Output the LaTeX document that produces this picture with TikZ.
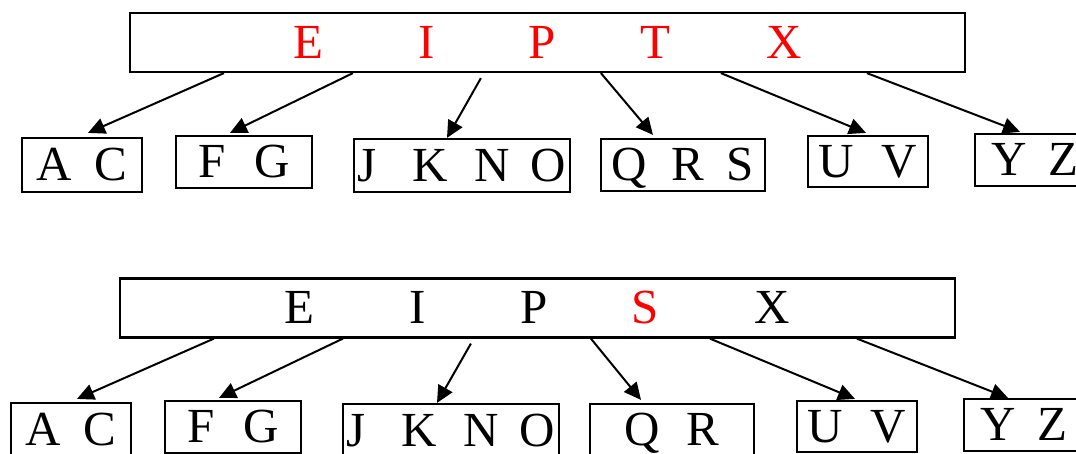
\documentclass[tikz,border=0pt]{standalone}
\usepackage{fontspec}
\setmainfont{Liberation Serif}
\usetikzlibrary{arrows.meta}

% five keys of an internal node, spaced out
\newcommand{\keyrow}[5]{#1\hspace{95pt}#2\hspace{94pt}#3\hspace{84pt}#4\hspace{96pt}#5}

\begin{document}
\begin{tikzpicture}[x=1pt, y=-1pt,
    keys/.style={draw, line width=2.2pt, inner sep=0pt, minimum width=835pt, minimum height=59pt,
                 text height=31.5pt, text depth=0pt, font=\fontsize{49}{51}\selectfont},
    leaf/.style={draw, line width=2.2pt, inner sep=0pt, minimum height=52pt,
                 text height=31.5pt, text depth=0pt, font=\fontsize{49}{51}\selectfont},
    link/.style={-{Triangle[length=17pt,width=16pt]}, line width=2pt}]
        \useasboundingbox (0,0) rectangle (1076,453);
        \clip (0,0) rectangle (1076,453);

        % ============================================================
        % Before: root holds E I P T X
        % ============================================================
        \node[keys, text=red] (topkeys) at (547.5,42.5) {\keyrow{E}{I}{P}{T}{X}};

        \node[leaf, minimum width=120pt, minimum height=54pt] (topac) at (82,165) {A\hspace{22pt}C};
        \node[leaf, minimum width=136pt] (topfg) at (244,162) {F\hspace{29pt}G};
        \node[leaf, minimum width=216pt, minimum height=53pt] (topjkno) at (462,165.5) {J\hspace{36pt}K\hspace{26pt}N\hspace{21pt}O};
        \node[leaf, minimum width=164pt] (topqrs) at (683,165) {Q\hspace{24pt}R\hspace{23pt}S};
        \node[leaf, minimum width=120pt, minimum height=51pt] (topuv) at (868,161.5) {U\hspace{28pt}V};
        \node[leaf, minimum width=120pt] (topyz) at (1035,160) {Y\hspace{21pt}Z};

        \draw[link] ([xshift=95pt]topkeys.south west) -- ([xshift=6pt,yshift=4pt]topac.north);
        \draw[link] ([xshift=224pt]topkeys.south west) -- ([xshift=-14pt,yshift=2pt]topfg.north);
        \draw[link] ([xshift=352pt,yshift=-5pt]topkeys.south west) -- ([xshift=-15pt]topjkno.north);
        \draw[link] ([xshift=472pt]topkeys.south west) -- ([xshift=-30pt,yshift=3pt]topqrs.north);
        \draw[link] ([xshift=592pt]topkeys.south west) -- ([xshift=-2pt,yshift=2pt]topuv.north);
        \draw[link] ([xshift=738pt]topkeys.south west) -- ([xshift=-15pt,yshift=1pt]topyz.north);

        % ============================================================
        % After: T replaced by S
        % ============================================================
        \begin{scope}[shift={(-11,265)}]
        \node[keys] (botkeys) at (548.5,43) {\keyrow{E}{I}{P}{\textcolor{red}{S}}{X}};

        \node[leaf, minimum width=120pt, minimum height=54pt] (botac) at (82,165) {A\hspace{22pt}C};
        \node[leaf, minimum width=136pt] (botfg) at (244,162) {F\hspace{29pt}G};
        \node[leaf, minimum width=216pt, minimum height=53pt] (botjkno) at (462,165.5) {J\hspace{36pt}K\hspace{26pt}N\hspace{21pt}O};
        \node[leaf, minimum width=164pt] (botqr) at (683,165) {Q\hspace{26pt}R};
        \node[leaf, minimum width=120pt, minimum height=51pt] (botuv) at (868,161.5) {U\hspace{28pt}V};
        \node[leaf, minimum width=120pt] (botyz) at (1035,160) {Y\hspace{21pt}Z};
        \end{scope}

        \draw[link] ([xshift=95pt]botkeys.south west) -- ([xshift=6pt,yshift=3pt]botac.north);
        \draw[link] ([xshift=224pt]botkeys.south west) -- ([xshift=-14pt,yshift=2pt]botfg.north);
        \draw[link] ([xshift=352pt,yshift=-5pt]botkeys.south west) -- ([xshift=-14pt]botjkno.north);
        \draw[link] ([xshift=472pt]botkeys.south west) -- ([xshift=-31pt,yshift=3pt]botqr.north);
        \draw[link] ([xshift=591pt]botkeys.south west) -- ([xshift=-2pt,yshift=1pt]botuv.north);
        \draw[link] ([xshift=738pt]botkeys.south west) -- ([xshift=-16pt]botyz.north);
\end{tikzpicture}
\end{document}
